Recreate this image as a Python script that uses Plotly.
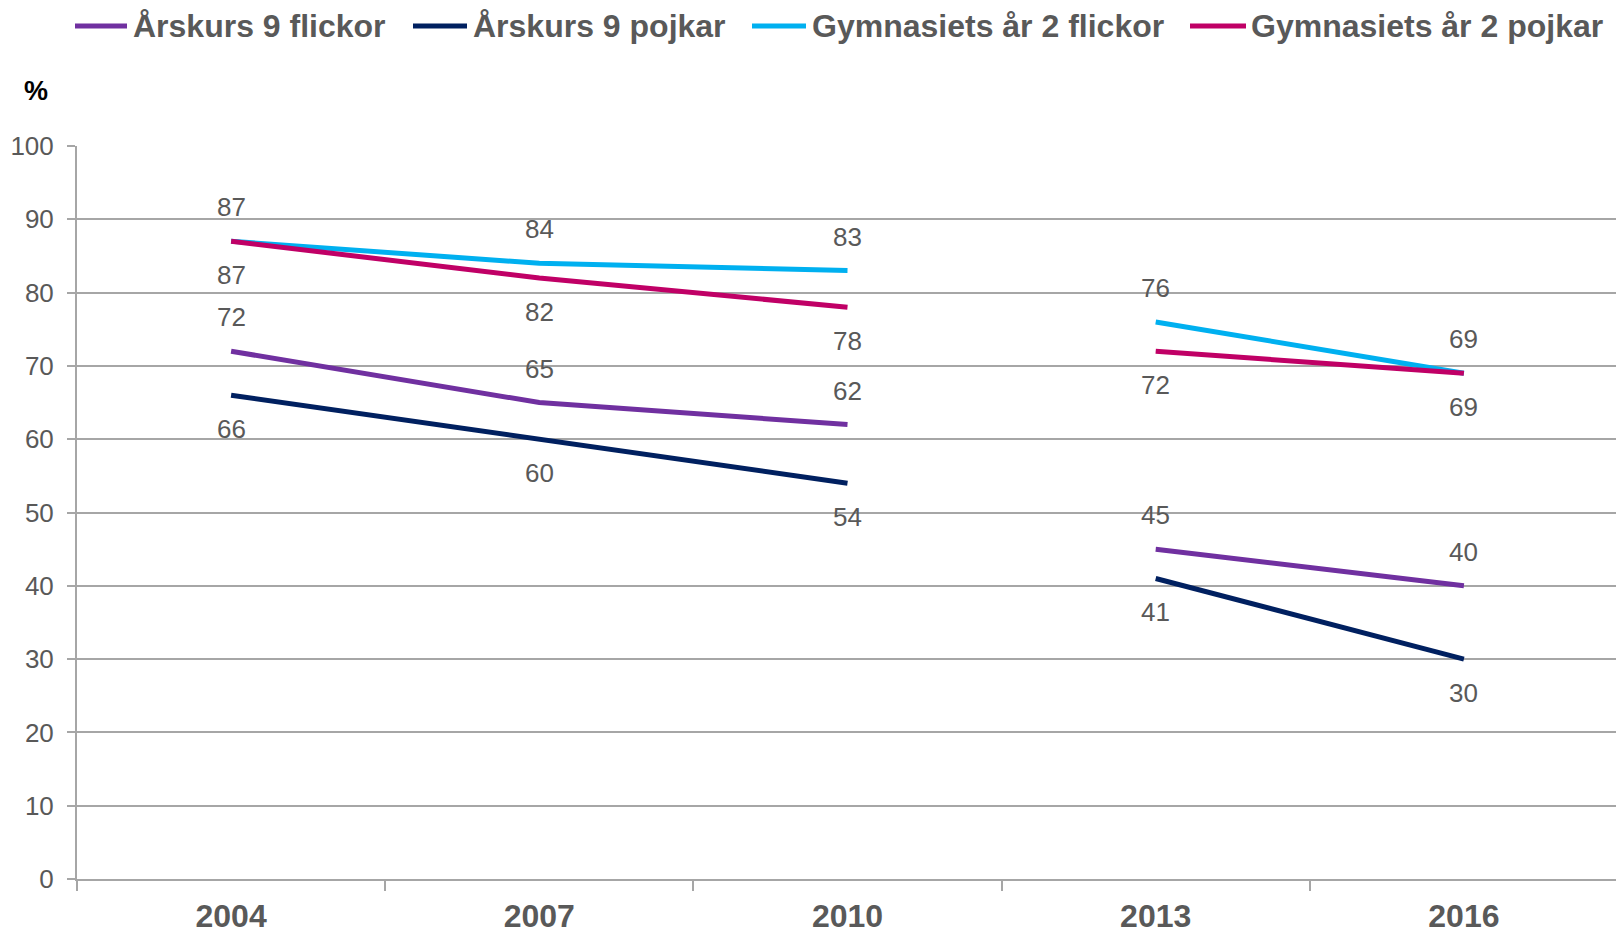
import plotly.graph_objects as go

# ---- data ----
years = ["2004", "2007", "2010", "2013", "2016"]
series_names = ["Årskurs 9 flickor", "Årskurs 9 pojkar",
                "Gymnasiets år 2 flickor", "Gymnasiets år 2 pojkar"]
ak9_flickor = [72, 65, 62, 45, 40]
ak9_pojkar = [66, 60, 54, 41, 30]
gy2_flickor = [87, 84, 83, 76, 69]
gy2_pojkar = [87, 82, 78, 72, 69]
y_ticks = [0, 10, 20, 30, 40, 50, 60, 70, 80, 90, 100]

all_values = [ak9_flickor, ak9_pojkar, gy2_flickor, gy2_pojkar]
colors = ["#7030A0", "#002060", "#00B0F0", "#C00066"]
label_side = [1, -1, 1, -1]  # above / below
break_after = 3  # survey method changed between 2010 and 2013

W, H = 1616, 933
L, R, T, B = 77, 0, 146, 54
pw, ph = W - L - R, H - T - B
CAT_PX = 308.2
GRAY = "#595959"
GRID = "#A6A6A6"
FONT = "Liberation Sans"


def px_x(p):
    return (p - L) / pw


def px_y(p):
    return (H - B - p) / ph


fig = go.Figure()
annotations = []
shapes = []

for name, vals, col, side in zip(series_names, all_values, colors, label_side):
    for seg in (slice(0, break_after), slice(break_after, len(years))):
        fig.add_trace(go.Scatter(
            x=years[seg], y=vals[seg], mode="lines", name=name,
            line=dict(color=col, width=5), showlegend=False,
            hoverinfo="x+y+name"))
    for i, v in enumerate(vals):
        annotations.append(dict(
            x=i, y=v, xref="x", yref="y", text=str(v), showarrow=False,
            yshift=34 * side, xanchor="center", yanchor="middle",
            font=dict(family=FONT, size=26, color=GRAY)))

# custom legend (line swatch + bold text), placed in pixel positions
leg_items = [(75, 127, 131), (413, 467, 471), (752, 806, 810), (1190, 1246, 1249)]
for (x0, x1, tx), name, col in zip(leg_items, series_names, colors):
    shapes.append(dict(type="line", xref="paper", yref="paper",
                       x0=px_x(x0), x1=px_x(x1), y0=px_y(26), y1=px_y(26),
                       line=dict(color=col, width=5)))
    annotations.append(dict(
        x=px_x(tx), y=px_y(26), xref="paper", yref="paper", text=name,
        showarrow=False, xanchor="left", yanchor="middle",
        font=dict(family=FONT, size=32, color=GRAY, weight="bold")))

annotations.append(dict(
    x=px_x(36), y=px_y(91), xref="paper", yref="paper", text="%",
    showarrow=False, xanchor="center", yanchor="middle",
    font=dict(family=FONT, size=27, color="#000000", weight="bold")))

fig.update_layout(
    width=W, height=H,
    margin=dict(l=L, r=R, t=T, b=B, autoexpand=False),
    paper_bgcolor="white", plot_bgcolor="white",
    showlegend=False,
    annotations=annotations, shapes=shapes,
    xaxis=dict(
        type="category", categoryorder="array", categoryarray=years,
        range=[-0.5, -0.5 + pw / CAT_PX],
        tickson="boundaries", ticks="outside", ticklen=10, tickwidth=2,
        tickcolor=GRID, showgrid=False, showline=True, linecolor=GRID,
        linewidth=2, zeroline=False,
        tickfont=dict(family=FONT, size=32, color=GRAY, weight="bold"),
        ticklabelstandoff=8),
    yaxis=dict(
        range=[0, 100], tickvals=y_ticks, ticks="outside", ticklen=8,
        tickwidth=2, tickcolor=GRID, showgrid=True, gridcolor=GRID,
        gridwidth=2, showline=True, linecolor=GRID, linewidth=2,
        zeroline=False,
        tickfont=dict(family=FONT, size=26, color=GRAY),
        ticklabelstandoff=8),
)

fig.write_html(
    "out.html",
    config={"displayModeBar": False},
    post_script="document.body.style.margin='0';"
                "document.body.style.overflow='hidden';")
